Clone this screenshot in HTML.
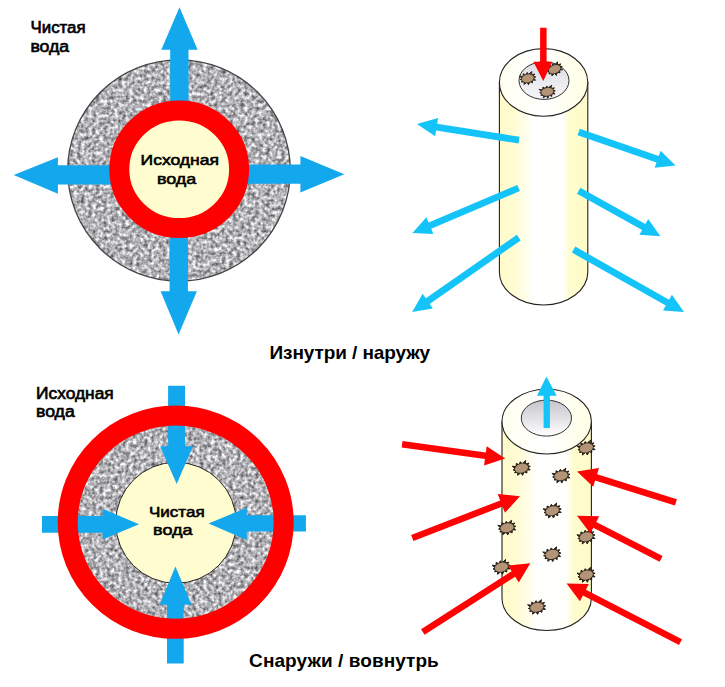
<!DOCTYPE html>
<html><head><meta charset="utf-8">
<style>
html,body{margin:0;padding:0;background:#fff;}
body{width:725px;height:687px;overflow:hidden;font-family:"Liberation Sans",sans-serif;}
svg{display:block;position:absolute;left:0;top:0;}
text{font-family:"Liberation Sans",sans-serif;fill:#000;}
.lbl{font-size:16.3px;stroke:#000;stroke-width:0.65px;}
.ttl{font-size:19px;font-weight:bold;}
</style></head><body>
<svg width="725" height="687" viewBox="0 0 725 687">
<defs>
<filter id="noise" x="0" y="0" width="100%" height="100%" color-interpolation-filters="sRGB">
  <feTurbulence type="fractalNoise" baseFrequency="0.27" numOctaves="2" seed="7" result="t"/>
  <feColorMatrix in="t" type="matrix" values="0 1.08 0 0 0.165  0 1.08 0 0 0.165  0 1.08 0 0 0.18  0 0 0 0 1" result="g0"/>
  <feGaussianBlur in="g0" stdDeviation="0.55" result="g"/>
  <feComposite in="g" in2="SourceGraphic" operator="in"/>
</filter>
<linearGradient id="cyl" x1="0" x2="1" y1="0" y2="0">
  <stop offset="0" stop-color="#fffbc9"/>
  <stop offset="0.18" stop-color="#fffcd4"/>
  <stop offset="0.40" stop-color="#ffffff"/>
  <stop offset="0.72" stop-color="#fffffb"/>
  <stop offset="0.80" stop-color="#fffcce"/>
  <stop offset="1" stop-color="#fffbc8"/>
</linearGradient>
<linearGradient id="top" x1="0" x2="1" y1="0" y2="0">
  <stop offset="0" stop-color="#fffff0"/>
  <stop offset="0.5" stop-color="#ffffff"/>
  <stop offset="1" stop-color="#ffffe4"/>
</linearGradient>
<linearGradient id="hole1" x1="0" x2="0" y1="0" y2="1">
  <stop offset="0" stop-color="#dcdce4"/>
  <stop offset="1" stop-color="#f6f6fa"/>
</linearGradient>
<linearGradient id="hole2" x1="0" x2="0" y1="0" y2="1">
  <stop offset="0" stop-color="#c4c4cc"/>
  <stop offset="1" stop-color="#ffffff"/>
</linearGradient>

</defs>

<!-- ================= TOP LEFT ================= -->
<ellipse cx="179" cy="170.5" rx="111.3" ry="110.6" fill="#888" filter="url(#noise)"/>
<ellipse cx="179" cy="170.5" rx="111.3" ry="110.6" fill="none" stroke="#444" stroke-width="1.3"/>
<g fill="#13a7ed">
  <path d="M170.2,120 V49.8 H161.3 L179.5,7.2 L197.6,49.8 H188.5 V120 Z"/>
  <path d="M169.6,220 V291.3 H160.6 L178.6,334.4 L196.9,291.3 H187.9 V220 Z"/>
  <path d="M130,165.3 H57.9 V157.2 L13.7,175 L57.9,193.7 V184.6 H130 Z"/>
  <path d="M230,164.5 H300.4 V156 L344.3,174.2 L300.4,192.6 V183.8 H230 Z"/>
</g>
<ellipse cx="179.2" cy="169.3" rx="59.9" ry="58.8" fill="#fffccf" stroke="#ff0000" stroke-width="20"/>
<text class="lbl" lengthAdjust="spacingAndGlyphs" transform="translate(30.5,32.8) scale(1,0.97)" textLength="55.1">Чистая</text>
<text class="lbl" lengthAdjust="spacingAndGlyphs" transform="translate(30.4,51.7) scale(1,0.97)" textLength="38.8">вода</text>
<text class="lbl" lengthAdjust="spacingAndGlyphs" transform="translate(140.6,165.4) scale(1,0.95)" textLength="78.4">Исходная</text>
<text class="lbl" lengthAdjust="spacingAndGlyphs" transform="translate(157,183.9) scale(1,0.95)" textLength="39.2">вода</text>

<!-- ================= TITLES ================= -->
<text class="ttl" x="269.5" y="359.3" textLength="160.7">Изнутри / наружу</text>
<text class="ttl" x="249.1" y="667.3" textLength="189.7">Снаружи / вовнутрь</text>

<!-- ================= BOTTOM LEFT ================= -->
<ellipse cx="175.7" cy="522.2" rx="100" ry="99" fill="#888" filter="url(#noise)"/>
<ellipse cx="176" cy="522.8" rx="60.3" ry="60.5" fill="#fffccf" stroke="#222" stroke-width="1"/>
<g fill="#13a7ed">
  <path d="M168.1,385.8 H185 V446.3 H193 L176.7,484.1 L160.1,446.3 H168.1 Z"/>
  <path d="M167,663.5 H183.7 V604.8 H191.6 L175.4,566.5 L159.6,604.8 H167 Z"/>
  <path d="M42,516 V532.8 H102.6 V539.6 L139,524.2 L102.6,508.7 V516 Z"/>
  <path d="M305.9,515.2 V531.5 H246.8 V540 L208.6,523.5 L246.8,507.6 V515.2 Z"/>
</g>
<ellipse cx="175.7" cy="522.2" rx="108" ry="106.6" fill="none" stroke="#ff0000" stroke-width="20"/>
<text class="lbl" lengthAdjust="spacingAndGlyphs" transform="translate(36.1,398.8) scale(1,0.97)" textLength="77.6">Исходная</text>
<text class="lbl" lengthAdjust="spacingAndGlyphs" transform="translate(36.0,417) scale(1,0.97)" textLength="38.7">вода</text>
<text class="lbl" lengthAdjust="spacingAndGlyphs" transform="translate(149,516.6) scale(1,0.95)" textLength="55.6">Чистая</text>
<text class="lbl" lengthAdjust="spacingAndGlyphs" transform="translate(153.1,535.4) scale(1,0.95)" textLength="39.4">вода</text>

<!-- ================= TOP RIGHT ================= -->
<path d="M499.4,82.4 V272 A44.2,33 0 0 0 587.8,272 V82.4 Z" fill="url(#cyl)" stroke="#222" stroke-width="1.1"/>
<ellipse cx="543.6" cy="82.4" rx="44.2" ry="33.8" fill="url(#top)" stroke="#222" stroke-width="1.1"/>
<ellipse cx="544" cy="80.6" rx="25" ry="18.8" fill="url(#hole1)" stroke="#333" stroke-width="1"/>
<g transform="translate(527.8,78.3) scale(0.9) rotate(-12)"><path d="M9.0,0.5 L6.4,1.1 L8.0,4.0 L4.7,3.0 L4.0,6.1 L1.7,4.2 L-0.8,7.2 L-1.7,4.2 L-5.6,5.9 L-4.7,3.0 L-7.8,2.7 L-6.4,1.1 L-8.5,-0.5 L-6.4,-1.1 L-8.5,-4.3 L-4.7,-3.0 L-3.9,-6.0 L-1.7,-4.2 L0.7,-6.5 L1.7,-4.2 L6.1,-6.4 L4.7,-3.0 L8.6,-3.0 L6.4,-1.1 Z" fill="#3a2c20" stroke="#241c14" stroke-width="0.9" stroke-linejoin="miter"/>
  <ellipse cx="0" cy="0" rx="6.7" ry="4.4" fill="#b39476"/></g>
<g transform="translate(554.6,69.2) scale(0.9) rotate(-22)"><path d="M9.0,0.5 L6.4,1.1 L8.0,4.0 L4.7,3.0 L4.0,6.1 L1.7,4.2 L-0.8,7.2 L-1.7,4.2 L-5.6,5.9 L-4.7,3.0 L-7.8,2.7 L-6.4,1.1 L-8.5,-0.5 L-6.4,-1.1 L-8.5,-4.3 L-4.7,-3.0 L-3.9,-6.0 L-1.7,-4.2 L0.7,-6.5 L1.7,-4.2 L6.1,-6.4 L4.7,-3.0 L8.6,-3.0 L6.4,-1.1 Z" fill="#3a2c20" stroke="#241c14" stroke-width="0.9" stroke-linejoin="miter"/>
  <ellipse cx="0" cy="0" rx="6.7" ry="4.4" fill="#b39476"/></g>
<g transform="translate(547.3,91.8) scale(0.9) rotate(-10)"><path d="M9.0,0.5 L6.4,1.1 L8.0,4.0 L4.7,3.0 L4.0,6.1 L1.7,4.2 L-0.8,7.2 L-1.7,4.2 L-5.6,5.9 L-4.7,3.0 L-7.8,2.7 L-6.4,1.1 L-8.5,-0.5 L-6.4,-1.1 L-8.5,-4.3 L-4.7,-3.0 L-3.9,-6.0 L-1.7,-4.2 L0.7,-6.5 L1.7,-4.2 L6.1,-6.4 L4.7,-3.0 L8.6,-3.0 L6.4,-1.1 Z" fill="#3a2c20" stroke="#241c14" stroke-width="0.9" stroke-linejoin="miter"/>
  <ellipse cx="0" cy="0" rx="6.7" ry="4.4" fill="#b39476"/></g>
<path d="M540.1,27.7 H546.6 V61.8 H552.3 L543.3,81.1 L533.4,61.8 H540.1 Z" fill="#fd0303"/>
<g fill="#14c4f8">
<path d="M519.5,136.7 L437.2,123.8 L438.1,118.0 L416.9,124.0 L435.2,136.3 L436.1,130.5 L518.5,143.5 Z"/>
<path d="M517.3,184.9 L428.6,222.5 L426.4,217.3 L412.4,233.0 L433.4,233.9 L431.2,228.7 L519.9,191.1 Z"/>
<path d="M516.9,234.8 L425.8,298.3 L422.6,293.7 L412.2,312.0 L432.9,308.5 L429.7,303.9 L520.7,240.4 Z"/>
<path d="M577.6,135.2 L656.5,162.5 L654.7,167.8 L675.6,165.5 L660.6,150.8 L658.8,156.1 L579.8,128.8 Z"/>
<path d="M577.0,193.8 L642.1,229.9 L639.4,234.8 L660.4,236.2 L648.2,219.1 L645.4,224.0 L580.4,187.8 Z"/>
<path d="M571.9,252.6 L665.8,305.6 L663.0,310.5 L684.0,312.0 L671.9,294.8 L669.1,299.7 L575.3,246.6 Z"/>
</g>

<!-- ================= BOTTOM RIGHT ================= -->
<path d="M502,421.6 V598 A44.7,32.5 0 0 0 591.4,598 V421.6 Z" fill="url(#cyl)" stroke="#222" stroke-width="1.1"/>
<ellipse cx="546.7" cy="421.6" rx="44.7" ry="32.4" fill="url(#top)" stroke="#222" stroke-width="1.1"/>
<ellipse cx="546.4" cy="418.1" rx="25.1" ry="18" fill="url(#hole2)" stroke="#333" stroke-width="1"/>
<path d="M543.6,427.9 H549.9 V395.8 H556.7 L546.4,376.6 L537,395.8 H543.6 Z" fill="#14c4f8"/>
<g transform="translate(521.5,468.2) rotate(-15)"><path d="M9.0,0.5 L6.4,1.1 L8.0,4.0 L4.7,3.0 L4.0,6.1 L1.7,4.2 L-0.8,7.2 L-1.7,4.2 L-5.6,5.9 L-4.7,3.0 L-7.8,2.7 L-6.4,1.1 L-8.5,-0.5 L-6.4,-1.1 L-8.5,-4.3 L-4.7,-3.0 L-3.9,-6.0 L-1.7,-4.2 L0.7,-6.5 L1.7,-4.2 L6.1,-6.4 L4.7,-3.0 L8.6,-3.0 L6.4,-1.1 Z" fill="#3a2c20" stroke="#241c14" stroke-width="0.9" stroke-linejoin="miter"/><ellipse cx="0" cy="0" rx="6.7" ry="4.4" fill="#b39476"/></g>
<g transform="translate(561.1,475.8) rotate(-12)"><path d="M9.0,0.5 L6.4,1.1 L8.0,4.0 L4.7,3.0 L4.0,6.1 L1.7,4.2 L-0.8,7.2 L-1.7,4.2 L-5.6,5.9 L-4.7,3.0 L-7.8,2.7 L-6.4,1.1 L-8.5,-0.5 L-6.4,-1.1 L-8.5,-4.3 L-4.7,-3.0 L-3.9,-6.0 L-1.7,-4.2 L0.7,-6.5 L1.7,-4.2 L6.1,-6.4 L4.7,-3.0 L8.6,-3.0 L6.4,-1.1 Z" fill="#3a2c20" stroke="#241c14" stroke-width="0.9" stroke-linejoin="miter"/><ellipse cx="0" cy="0" rx="6.7" ry="4.4" fill="#b39476"/></g>
<g transform="translate(586.3,447.9) rotate(-15)"><path d="M9.0,0.5 L6.4,1.1 L8.0,4.0 L4.7,3.0 L4.0,6.1 L1.7,4.2 L-0.8,7.2 L-1.7,4.2 L-5.6,5.9 L-4.7,3.0 L-7.8,2.7 L-6.4,1.1 L-8.5,-0.5 L-6.4,-1.1 L-8.5,-4.3 L-4.7,-3.0 L-3.9,-6.0 L-1.7,-4.2 L0.7,-6.5 L1.7,-4.2 L6.1,-6.4 L4.7,-3.0 L8.6,-3.0 L6.4,-1.1 Z" fill="#3a2c20" stroke="#241c14" stroke-width="0.9" stroke-linejoin="miter"/><ellipse cx="0" cy="0" rx="6.7" ry="4.4" fill="#b39476"/></g>
<g transform="translate(552.4,510.8) rotate(-15)"><path d="M9.0,0.5 L6.4,1.1 L8.0,4.0 L4.7,3.0 L4.0,6.1 L1.7,4.2 L-0.8,7.2 L-1.7,4.2 L-5.6,5.9 L-4.7,3.0 L-7.8,2.7 L-6.4,1.1 L-8.5,-0.5 L-6.4,-1.1 L-8.5,-4.3 L-4.7,-3.0 L-3.9,-6.0 L-1.7,-4.2 L0.7,-6.5 L1.7,-4.2 L6.1,-6.4 L4.7,-3.0 L8.6,-3.0 L6.4,-1.1 Z" fill="#3a2c20" stroke="#241c14" stroke-width="0.9" stroke-linejoin="miter"/><ellipse cx="0" cy="0" rx="6.7" ry="4.4" fill="#b39476"/></g>
<g transform="translate(507.0,527.8) rotate(-12)"><path d="M9.0,0.5 L6.4,1.1 L8.0,4.0 L4.7,3.0 L4.0,6.1 L1.7,4.2 L-0.8,7.2 L-1.7,4.2 L-5.6,5.9 L-4.7,3.0 L-7.8,2.7 L-6.4,1.1 L-8.5,-0.5 L-6.4,-1.1 L-8.5,-4.3 L-4.7,-3.0 L-3.9,-6.0 L-1.7,-4.2 L0.7,-6.5 L1.7,-4.2 L6.1,-6.4 L4.7,-3.0 L8.6,-3.0 L6.4,-1.1 Z" fill="#3a2c20" stroke="#241c14" stroke-width="0.9" stroke-linejoin="miter"/><ellipse cx="0" cy="0" rx="6.7" ry="4.4" fill="#b39476"/></g>
<g transform="translate(586.2,536.8) rotate(-15)"><path d="M9.0,0.5 L6.4,1.1 L8.0,4.0 L4.7,3.0 L4.0,6.1 L1.7,4.2 L-0.8,7.2 L-1.7,4.2 L-5.6,5.9 L-4.7,3.0 L-7.8,2.7 L-6.4,1.1 L-8.5,-0.5 L-6.4,-1.1 L-8.5,-4.3 L-4.7,-3.0 L-3.9,-6.0 L-1.7,-4.2 L0.7,-6.5 L1.7,-4.2 L6.1,-6.4 L4.7,-3.0 L8.6,-3.0 L6.4,-1.1 Z" fill="#3a2c20" stroke="#241c14" stroke-width="0.9" stroke-linejoin="miter"/><ellipse cx="0" cy="0" rx="6.7" ry="4.4" fill="#b39476"/></g>
<g transform="translate(552.0,554.4) rotate(-12)"><path d="M9.0,0.5 L6.4,1.1 L8.0,4.0 L4.7,3.0 L4.0,6.1 L1.7,4.2 L-0.8,7.2 L-1.7,4.2 L-5.6,5.9 L-4.7,3.0 L-7.8,2.7 L-6.4,1.1 L-8.5,-0.5 L-6.4,-1.1 L-8.5,-4.3 L-4.7,-3.0 L-3.9,-6.0 L-1.7,-4.2 L0.7,-6.5 L1.7,-4.2 L6.1,-6.4 L4.7,-3.0 L8.6,-3.0 L6.4,-1.1 Z" fill="#3a2c20" stroke="#241c14" stroke-width="0.9" stroke-linejoin="miter"/><ellipse cx="0" cy="0" rx="6.7" ry="4.4" fill="#b39476"/></g>
<g transform="translate(501.4,567.2) rotate(-15)"><path d="M9.0,0.5 L6.4,1.1 L8.0,4.0 L4.7,3.0 L4.0,6.1 L1.7,4.2 L-0.8,7.2 L-1.7,4.2 L-5.6,5.9 L-4.7,3.0 L-7.8,2.7 L-6.4,1.1 L-8.5,-0.5 L-6.4,-1.1 L-8.5,-4.3 L-4.7,-3.0 L-3.9,-6.0 L-1.7,-4.2 L0.7,-6.5 L1.7,-4.2 L6.1,-6.4 L4.7,-3.0 L8.6,-3.0 L6.4,-1.1 Z" fill="#3a2c20" stroke="#241c14" stroke-width="0.9" stroke-linejoin="miter"/><ellipse cx="0" cy="0" rx="6.7" ry="4.4" fill="#b39476"/></g>
<g transform="translate(586.3,575.1) rotate(-15)"><path d="M9.0,0.5 L6.4,1.1 L8.0,4.0 L4.7,3.0 L4.0,6.1 L1.7,4.2 L-0.8,7.2 L-1.7,4.2 L-5.6,5.9 L-4.7,3.0 L-7.8,2.7 L-6.4,1.1 L-8.5,-0.5 L-6.4,-1.1 L-8.5,-4.3 L-4.7,-3.0 L-3.9,-6.0 L-1.7,-4.2 L0.7,-6.5 L1.7,-4.2 L6.1,-6.4 L4.7,-3.0 L8.6,-3.0 L6.4,-1.1 Z" fill="#3a2c20" stroke="#241c14" stroke-width="0.9" stroke-linejoin="miter"/><ellipse cx="0" cy="0" rx="6.7" ry="4.4" fill="#b39476"/></g>
<g transform="translate(536.8,607.2) rotate(-12)"><path d="M9.0,0.5 L6.4,1.1 L8.0,4.0 L4.7,3.0 L4.0,6.1 L1.7,4.2 L-0.8,7.2 L-1.7,4.2 L-5.6,5.9 L-4.7,3.0 L-7.8,2.7 L-6.4,1.1 L-8.5,-0.5 L-6.4,-1.1 L-8.5,-4.3 L-4.7,-3.0 L-3.9,-6.0 L-1.7,-4.2 L0.7,-6.5 L1.7,-4.2 L6.1,-6.4 L4.7,-3.0 L8.6,-3.0 L6.4,-1.1 Z" fill="#3a2c20" stroke="#241c14" stroke-width="0.9" stroke-linejoin="miter"/><ellipse cx="0" cy="0" rx="6.7" ry="4.4" fill="#b39476"/></g>
<g fill="#fd0303">
<path d="M401.7,447.5 L484.9,459.1 L484.1,465.5 L505.2,458.6 L486.7,446.2 L485.8,452.6 L402.5,441.1 Z"/>
<path d="M413.5,541.0 L502.5,506.5 L505.0,512.8 L520.0,496.2 L497.7,494.1 L500.2,500.4 L411.1,535.0 Z"/>
<path d="M424.6,634.7 L515.2,576.7 L518.8,582.4 L530.3,563.2 L508.1,565.6 L511.7,571.2 L421.0,629.3 Z"/>
<path d="M676.9,499.2 L597.1,474.3 L599.0,468.1 L577.0,471.4 L593.2,486.7 L595.1,480.5 L674.9,505.4 Z"/>
<path d="M662.6,555.9 L596.3,522.0 L599.2,516.2 L577.0,515.8 L590.4,533.6 L593.3,527.8 L659.6,561.7 Z"/>
<path d="M682.0,639.3 L585.9,589.7 L588.8,583.9 L566.6,583.4 L579.9,601.2 L582.9,595.5 L679.0,645.1 Z"/>
</g>
</svg>
</body></html>
